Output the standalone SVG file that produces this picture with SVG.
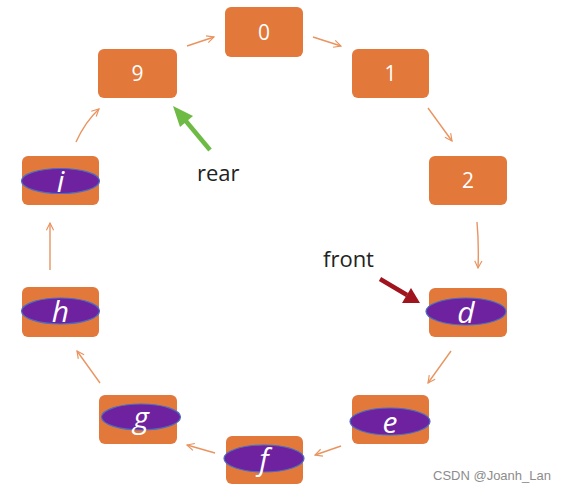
<svg xmlns="http://www.w3.org/2000/svg" width="571" height="492" viewBox="0 0 571 492">
<defs>
<style>
.box{fill:#E2783A}
.ell{fill:#6E22A0;stroke:#4A6FC0;stroke-width:1.2}
.num{font-family:"Open Sans","Liberation Sans",sans-serif;font-size:21px;fill:#FFFFFF;text-anchor:middle}
.let{font-family:"Open Sans","Liberation Sans",sans-serif;font-style:italic;font-size:30px;fill:#FFFFFF;text-anchor:middle}
.lbl{font-family:"Open Sans","Liberation Sans",sans-serif;font-size:22px;fill:#222222}
.con{fill:none;stroke:#E99460;stroke-width:1.4;marker-end:url(#oa)}
</style>
<marker id="oa" viewBox="0 0 10 10" refX="9" refY="5" markerWidth="9" markerHeight="9" markerUnits="userSpaceOnUse" orient="auto">
<path d="M1,1 L9,5 L1,9" fill="none" stroke="#E99460" stroke-width="1.3"/>
</marker>
</defs>
<rect width="571" height="492" fill="#FFFFFF"/>
<g id="connectors">
<path class="con" d="M187,46 L214,37"/>
<path class="con" d="M313,37 L341,46"/>
<path class="con" d="M428,108 L452,141"/>
<path class="con" d="M477,222 Q479,245 478,268"/>
<path class="con" d="M451,351 L428,383"/>
<path class="con" d="M341,446 L315,455"/>
<path class="con" d="M215,453 L187,445"/>
<path class="con" d="M100,383 L77,351"/>
<path class="con" d="M50,270 L50,223"/>
<path class="con" d="M76,142 Q85,122 99,109"/>
</g>
<g id="node-0"><rect class="box" x="225" y="7" width="78" height="50" rx="6"/><text class="num" x="264" y="40">0</text></g>
<g id="node-1"><rect class="box" x="352" y="49" width="77" height="49" rx="6"/><text class="num" x="390.5" y="81">1</text></g>
<g id="node-2"><rect class="box" x="429" y="156" width="78" height="49" rx="6"/><text class="num" x="468" y="188">2</text></g>
<g id="node-d"><rect class="box" x="429" y="288" width="78" height="49" rx="6"/><ellipse class="ell" cx="466" cy="311.5" rx="40" ry="13.5"/><text class="let" x="466" y="323">d</text></g>
<g id="node-e"><rect class="box" x="352" y="395" width="77" height="49" rx="6"/><ellipse class="ell" cx="390" cy="421.5" rx="40" ry="13.5"/><text class="let" x="390" y="433">e</text></g>
<g id="node-f"><rect class="box" x="226" y="436" width="77" height="48" rx="6"/><ellipse class="ell" cx="264" cy="458.5" rx="40" ry="13.5"/><text class="let" x="264" y="470">f</text></g>
<g id="node-g"><rect class="box" x="99" y="395" width="78" height="49" rx="6"/><ellipse class="ell" cx="141" cy="417" rx="39.5" ry="13"/><text class="let" x="141" y="428">g</text></g>
<g id="node-h"><rect class="box" x="22" y="287" width="77" height="50" rx="6"/><ellipse class="ell" cx="60.5" cy="311" rx="39" ry="13"/><text class="let" x="60.5" y="322">h</text></g>
<g id="node-i"><rect class="box" x="22" y="156" width="77" height="49" rx="6"/><ellipse class="ell" cx="60.5" cy="181" rx="39" ry="12.5"/><text class="let" x="60.5" y="192">i</text></g>
<g id="node-9"><rect class="box" x="98" y="49" width="79" height="49" rx="6"/><text class="num" x="137.5" y="81">9</text></g>
<g id="rear-pointer">
<line x1="210" y1="150" x2="185" y2="120" stroke="#6DBA45" stroke-width="4.5"/>
<polygon points="173,106 193,116 180,127" fill="#6DBA45"/>
<text class="lbl" x="197" y="181">rear</text>
</g>
<g id="front-pointer">
<line x1="380" y1="279" x2="407" y2="295" stroke="#A0141E" stroke-width="4.5"/>
<polygon points="420,303 402,303 411,288" fill="#A0141E"/>
<text class="lbl" x="323" y="267">front</text>
</g>
<text x="433" y="480" font-family="Liberation Sans, Arial, sans-serif" font-size="13" fill="#8C8C8C">CSDN @Joanh_Lan</text>
</svg>
